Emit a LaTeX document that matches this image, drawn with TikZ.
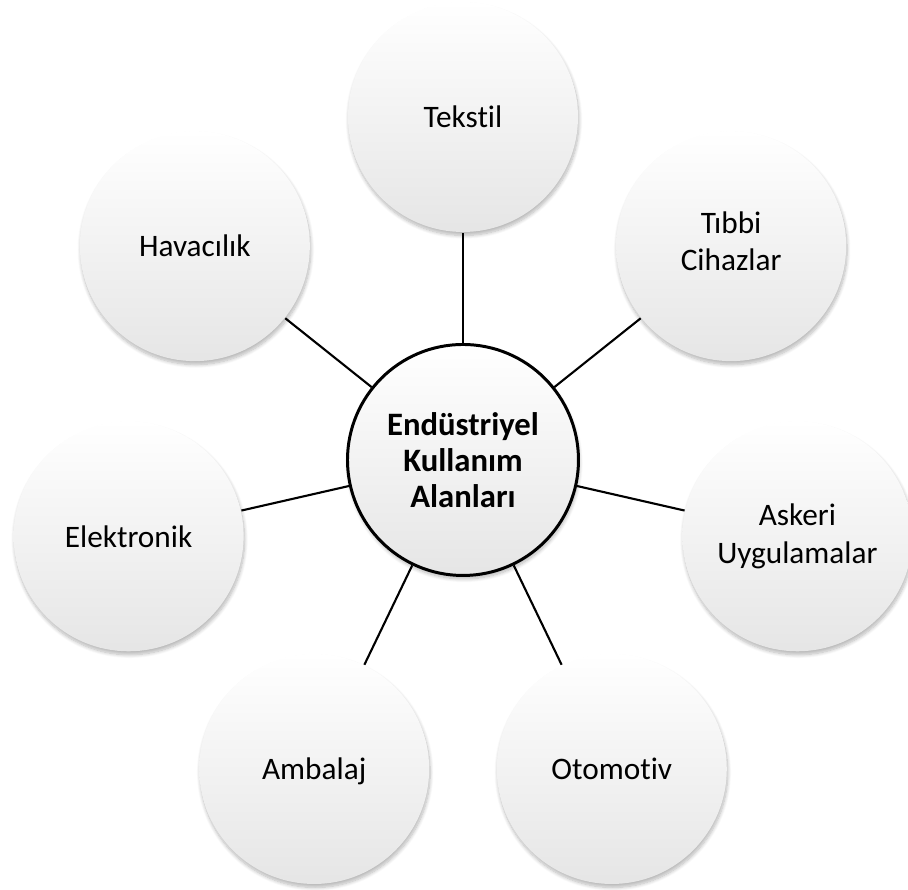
\documentclass[tikz,border=0pt]{standalone}
\usepackage{fontspec}
\setmainfont{Carlito}[Ligatures=NoCommon]
\usetikzlibrary{shadows.blur}

\tikzset{
  soft shadow/.style={blur shadow={shadow xshift=0.01cm, shadow yshift=-0.035cm,
      shadow blur radius=0.035cm, shadow blur steps=8, shadow opacity=28}},
  leaf/.style={circle, minimum size=2.3cm, inner sep=0pt, align=center,
    top color=white, middle color=white, bottom color=black!10,
    soft shadow, font=\fontsize{8.9}{10.6}\selectfont},
  hub/.style={circle, minimum size=2.31cm, inner sep=0pt, align=center,
    draw=black, line width=0.85pt,
    top color=white, middle color=white, bottom color=black!10,
    soft shadow, font=\fontsize{9.3}{10.3}\selectfont\bfseries},
  spoke/.style={draw=black, line width=0.6pt}
}

\begin{document}
\begin{tikzpicture}

  % --- frame: 908 x 890 px, 1 px = 0.01 cm ---
  \useasboundingbox (-4.63, -4.30) rectangle (4.45, 4.60);

  % --- center ---
  \node[hub] (merkez) at (0, 0) {Endüstriyel\\Kullanım\\Alanları};

  % --- seven fields around it ---
  \foreach \name/\txt [count=\i] in {
      tekstil/Tekstil,
      tibbi/{Tıbbi\\Cihazlar\vspace{0.1cm}},
      askeri/{Askeri\\Uygulamalar},
      otomotiv/Otomotiv,
      ambalaj/\raisebox{0pt}[\height][0pt]{Ambalaj},
      elektronik/Elektronik,
      havacilik/Havacılık} {
    \node[leaf] (\name) at ({90 - (\i-1)*360/7}:3.43) {\txt};
    \draw[spoke] (merkez) -- (\name);
  }

\end{tikzpicture}
\end{document}
